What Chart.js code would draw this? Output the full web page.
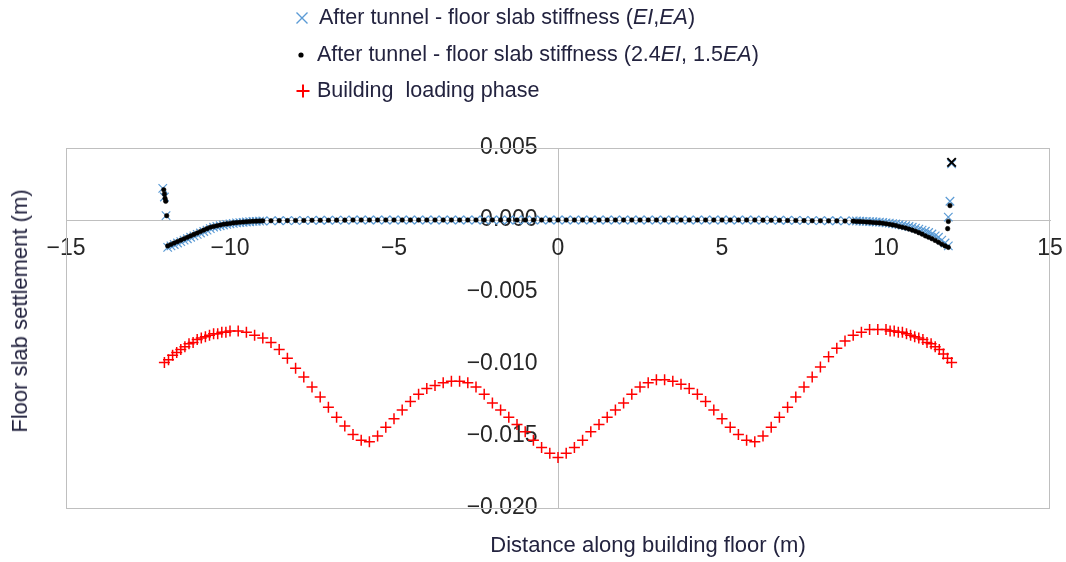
<!DOCTYPE html>
<html>
<head>
<meta charset="utf-8">
<script src="https://cdn.jsdelivr.net/npm/chart.js@4/dist/chart.umd.min.js"></script>
<style>
html,body{margin:0;padding:0;background:#fff;}
#wrap{position:relative;width:1066px;height:562px;overflow:hidden;}
#c{position:absolute;left:0;top:0;}
.txt{position:absolute;font-family:"Liberation Sans",Arial,sans-serif;color:#23233f;white-space:pre;line-height:1;}
.leg{font-size:21.5px;}
.ttl{font-size:22px;}
.mk{position:absolute;}
</style>
</head>
<body>
<div id="wrap">
<canvas id="c" width="1066" height="562"></canvas>
<svg class="mk" style="left:295px;top:11px" width="14" height="14"><path d="M1.5,1.5L12.5,12.5M12.5,1.5L1.5,12.5" stroke="#5B9BD5" stroke-width="1.4" fill="none"/></svg>
<div class="txt leg" style="left:319px;top:7px">After tunnel - floor slab stiffness (<i>EI</i>,<i>EA</i>)</div>
<svg class="mk" style="left:296px;top:50px" width="10" height="10"><circle cx="5" cy="5" r="2.6" fill="#000"/></svg>
<div class="txt leg" style="left:317px;top:44px">After tunnel - floor slab stiffness (2.4<i>EI</i>, 1.5<i>EA</i>)</div>
<svg class="mk" style="left:296px;top:84px" width="14" height="14"><path d="M7,0.5V13.5M0.5,7H13.5" stroke="#FF0000" stroke-width="2" fill="none"/></svg>
<div class="txt leg" style="left:317px;top:80px">Building  loading phase</div>
<div class="txt ttl" id="xt" style="left:648px;top:534px;transform:translateX(-50%)">Distance along building floor (m)</div>
<div class="txt ttl" id="yt" style="left:20px;top:311px;transform:translate(-50%,-50%) rotate(-90deg)">Floor slab settlement (m)</div>
</div>
<script>
// ---- Building loading phase (red +) ----
const redX = [-12,-11.875,-11.75,-11.625,-11.5,-11.375,-11.25,-11.125,-11,-10.875,-10.75,-10.625,-10.5,-10.375,-10.25,-10.125,-10,
  -9.75,-9.5,-9.25,-9,-8.75,-8.5,-8.25,-8,-7.75,-7.5,-7.25,-7,-6.75,-6.5,-6.25,-6,-5.75,-5.5,-5.25,-5,-4.75,-4.5,-4.25,-4,
  -3.75,-3.5,-3.25,-3,-2.75,-2.5,-2.25,-2,-1.75,-1.5,-1.25,-1,-0.75,-0.5,-0.25,0,
  0.25,0.5,0.75,1,1.25,1.5,1.75,2,2.25,2.5,2.75,3,3.25,3.5,3.75,4,4.25,4.5,4.75,5,5.25,5.5,5.75,6,6.25,6.5,6.75,7,
  7.25,7.5,7.75,8,8.25,8.5,8.75,9,9.25,9.5,9.75,
  10,10.125,10.25,10.375,10.5,10.625,10.75,10.875,11,11.125,11.25,11.375,11.5,11.625,11.75,11.875,12];
const redY = [-0.0099,-0.0097,-0.0094,-0.0092,-0.0090,-0.0088,-0.0086,-0.0085,-0.0083,-0.0082,-0.0081,-0.0080,-0.0079,-0.0079,-0.0078,-0.0078,-0.0077,
  -0.0077,-0.0078,-0.0080,-0.0082,-0.0085,-0.0090,-0.0096,-0.0103,-0.0109,-0.0116,-0.0123,-0.0130,-0.0137,-0.0143,-0.0149,-0.0153,-0.0154,-0.0150,-0.0144,-0.0138,-0.0132,-0.0126,-0.0121,-0.0117,
  -0.0115,-0.0113,-0.0112,-0.0112,-0.0113,-0.0116,-0.0121,-0.0127,-0.0132,-0.0137,-0.0142,-0.0147,-0.0153,-0.0158,-0.0162,-0.0165,
  -0.0162,-0.0158,-0.0153,-0.0147,-0.0142,-0.0137,-0.0132,-0.0127,-0.0121,-0.0116,-0.0113,-0.0111,-0.0111,-0.0112,-0.0114,-0.0117,-0.0121,-0.0126,-0.0132,-0.0138,-0.0144,-0.0149,-0.0153,-0.0154,-0.0150,-0.0144,-0.0137,-0.0130,
  -0.0123,-0.0116,-0.0109,-0.0102,-0.0095,-0.0089,-0.0084,-0.0080,-0.0078,-0.0076,-0.0076,
  -0.0076,-0.0077,-0.0077,-0.0078,-0.0078,-0.0079,-0.0080,-0.0081,-0.0082,-0.0083,-0.0085,-0.0086,-0.0088,-0.0090,-0.0093,-0.0096,-0.0099];

// ---- After tunnel series (shared positions) ----
const tunnelX = [-11.9,-11.8,-11.7,-11.6,-11.5,-11.4,-11.3,-11.2,-11.1,-11,-10.9,-10.8,-10.7,-10.6,-10.5,-10.4,-10.3,-10.2,-10.1,-10,
  -9.9,-9.8,-9.7,-9.6,-9.5,-9.4,-9.3,-9.2,-9.1,-9,
  -8.75,-8.5,-8.25,-8,-7.75,-7.5,-7.25,-7,-6.75,-6.5,-6.25,-6,-5.75,-5.5,-5.25,-5,-4.75,-4.5,-4.25,-4,-3.75,-3.5,-3.25,-3,
  -2.75,-2.5,-2.25,-2,-1.75,-1.5,-1.25,-1,-0.75,-0.5,-0.25,0,0.25,0.5,0.75,1,1.25,1.5,1.75,2,2.25,2.5,2.75,3,3.25,3.5,
  3.75,4,4.25,4.5,4.75,5,5.25,5.5,5.75,6,6.25,6.5,6.75,7,7.25,7.5,7.75,8,8.25,8.5,8.75,
  9,9.1,9.2,9.3,9.4,9.5,9.6,9.7,9.8,9.9,10,10.1,10.2,10.3,10.4,10.5,10.6,10.7,10.8,10.9,
  11,11.1,11.2,11.3,11.4,11.5,11.6,11.7,11.8,11.9];
// stiffness (EI, EA) - blue x
const stiffY = [-0.0019,-0.0018,-0.0017,-0.0016,-0.0015,-0.0014,-0.0013,-0.0012,-0.0011,-0.0010,
  -0.0009,-0.0008,-0.0007,-0.0006,-0.0005,-0.00045,-0.0004,-0.00035,-0.0003,-0.00027,
  -0.00024,-0.0002,-0.00018,-0.00016,-0.00014,-0.00012,-0.0001,-0.00009,-0.00008,-0.00007,
  -0.00006,-0.00005,-0.00004,-0.00004,-0.00003,-0.00003,-0.00002,-0.00002,-0.00001,-0.00001,
  0,0,0,0,0,0,0,0,0,0,
  0,0,0,0,0,0,0,0,0,0,
  0,0,0,0,0,0,0,0,0,0,
  0,0,0,0,0,0,0,0,0,0,
  0,0,0,0,0,0,0,0,0,0,
  -0.00001,-0.00001,-0.00002,-0.00002,-0.00003,-0.00003,-0.00004,-0.00004,-0.00005,-0.00005,-0.00006,
  -0.00006,-0.00007,-0.00008,-0.00009,-0.0001,-0.00011,-0.00012,-0.00014,-0.00015,-0.00017,
  -0.0002,-0.00022,-0.00025,-0.00028,-0.00032,-0.00036,-0.0004,-0.00045,-0.0005,-0.00056,
  -0.00063,-0.0007,-0.00078,-0.00087,-0.00097,-0.0011,-0.0012,-0.0014,-0.0016,-0.0018];
// stiffness (2.4EI, 1.5EA) - black dots
const stiff24Y = [-0.0018,-0.0017,-0.0016,-0.0015,-0.0014,-0.0013,-0.0012,-0.0011,-0.0010,-0.0009,
  -0.0008,-0.0007,-0.0006,-0.0005,-0.00045,-0.0004,-0.00035,-0.0003,-0.00027,-0.00024,
  -0.0002,-0.00018,-0.00016,-0.00014,-0.00012,-0.0001,-0.00009,-0.00008,-0.00007,-0.00006,
  -0.00005,-0.00004,-0.00004,-0.00003,-0.00003,-0.00002,-0.00002,-0.00002,-0.00001,-0.00001,
  0,0,0,0,0,0,0,0,0,0,
  0,0,0,0,0,0,0,0,0,0,
  0,0,0,0,0,0,0,0,0,0,
  0,0,0,0,0,0,0,0,0,0,
  0,0,0,0,0,0,0,0,0,0,
  -0.00001,-0.00002,-0.00002,-0.00003,-0.00003,-0.00004,-0.00005,-0.00005,-0.00006,-0.00006,-0.00007,
  -0.00008,-0.0001,-0.00011,-0.00012,-0.00014,-0.00015,-0.00017,-0.00019,-0.0002,-0.00023,
  -0.00026,-0.0003,-0.00034,-0.00038,-0.00045,-0.0005,-0.00056,-0.00063,-0.0007,-0.00078,
  -0.00088,-0.00098,-0.0011,-0.0012,-0.0013,-0.00142,-0.00155,-0.00168,-0.0018,-0.0019];
// edge points above the slab line
const stiffEdgeX = [-12.05,-12.0,-11.95,11.9,11.95,12.0];
const stiffEdgeY = [0.0022,0.0016,0.0003,0.0002,0.0013,0.0039];
const stiff24EdgeX = [-12.02,-12.0,-11.98,-11.96,-11.93,11.88,11.9,11.95,12.0];
const stiff24EdgeY = [0.0021,0.0018,0.0015,0.0013,0.0003,-0.0006,-0.0001,0.0010,0.0040];

// ---- axes ----
const xMin = -15, xMax = 15, xStep = 5;
const yMin = -0.020, yMax = 0.005, yStep = 0.005;

const pts = (xs, ys) => xs.map((x, i) => ({x: x, y: ys[i]}));
const fmtMinus = s => s.replace('-', '\u2212');

const boxPlugin = {
  id: 'box',
  beforeDatasetsDraw(chart) {
    const a = chart.chartArea, ctx = chart.ctx;
    ctx.save();
    ctx.strokeStyle = '#BFBFBF';
    ctx.lineWidth = 1;
    ctx.strokeRect(Math.round(a.left) + 0.5, Math.round(a.top) + 0.5, Math.round(a.right - a.left) - 1, Math.round(a.bottom - a.top));
    ctx.restore();
  }
};

new Chart(document.getElementById('c'), {
  type: 'scatter',
  data: {
    datasets: [
      {
        label: 'After tunnel - floor slab stiffness (2.4EI, 1.5EA)',
        data: pts(tunnelX, stiff24Y).concat(pts(stiff24EdgeX, stiff24EdgeY)),
        pointStyle: c => (c.raw && c.raw.y > 0.003) ? 'crossRot' : 'circle',
        pointRadius: c => (c.raw && c.raw.y > 0.003) ? 6 : 2.3,
        backgroundColor: '#000',
        borderColor: '#000',
        pointBorderWidth: c => (c.raw && c.raw.y > 0.003) ? 2 : 0.5
      },
      {
        label: 'After tunnel - floor slab stiffness (EI,EA)',
        data: pts(tunnelX, stiffY).concat(pts(stiffEdgeX, stiffEdgeY)),
        pointStyle: 'crossRot',
        pointRadius: 6,
        borderColor: '#5B9BD5',
        backgroundColor: '#5B9BD5',
        pointBorderWidth: 1.2
      },
      {
        label: 'Building  loading phase',
        data: pts(redX, redY),
        pointStyle: 'cross',
        pointRadius: 5.5,
        borderColor: '#FF0000',
        backgroundColor: '#FF0000',
        pointBorderWidth: 1.5
      }
    ]
  },
  options: {
    responsive: false,
    maintainAspectRatio: false,
    animation: false,
    events: [],
    layout: {padding: {left: 66, right: 16, top: 148, bottom: 54}},
    plugins: {legend: {display: false}, tooltip: {enabled: false}},
    scales: {
      x: {
        type: 'linear',
        min: xMin, max: xMax,
        position: {y: 0},
        afterFit: s => { s.paddingLeft = 0; s.paddingRight = 0; },
        grid: {
          display: true,
          drawTicks: false,
          color: c => (c.tick && c.tick.value === 0) ? '#BFBFBF' : 'rgba(0,0,0,0)',
          lineWidth: 1
        },
        border: {display: true, color: '#BFBFBF', width: 1},
        ticks: {
          stepSize: xStep,
          padding: 15,
          color: '#262626',
          font: {family: '"Liberation Sans", Arial, sans-serif', size: 23},
          callback: v => fmtMinus(String(v))
        }
      },
      y: {
        type: 'linear',
        min: yMin, max: yMax,
        position: {x: -0.62},
        afterFit: s => { s.paddingTop = 0; s.paddingBottom = 0; },
        grid: {display: false},
        border: {display: false},
        ticks: {
          stepSize: yStep,
          color: '#262626',
          font: {family: '"Liberation Sans", Arial, sans-serif', size: 23},
          callback: v => Math.abs(v) < 1e-9 ? '0.000' : fmtMinus(v.toFixed(3))
        }
      }
    }
  },
  plugins: [boxPlugin]
});
</script>
</body>
</html>
